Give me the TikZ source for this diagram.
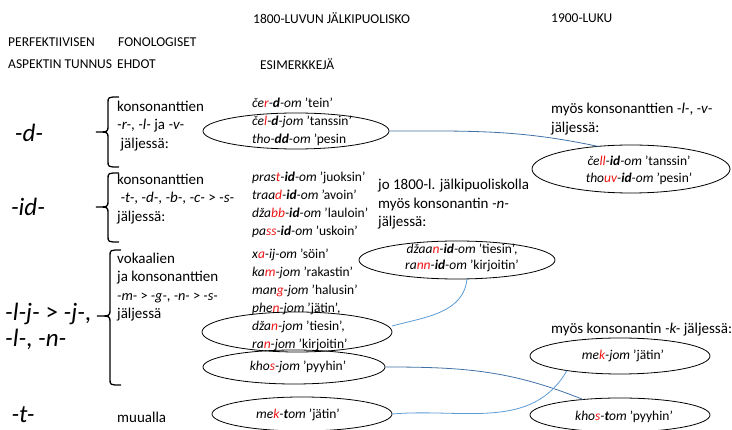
\documentclass[tikz,border=0pt]{standalone}
\usepackage{fontspec}
\setmainfont{Carlito}
\usepackage{xcolor}
\usetikzlibrary{shapes.geometric}
\definecolor{redl}{RGB}{240,20,20}
\definecolor{lblue}{RGB}{91,155,213}
\definecolor{dblue}{RGB}{65,113,165}
\newcommand{\rd}[1]{\textcolor{redl}{#1}}
\begin{document}
\begin{tikzpicture}[x=1pt,y=-1pt,
  hdr/.style={font=\fontsize{13.5}{16}\selectfont,anchor=west,inner sep=0},
  big/.style={font=\fontsize{25}{26}\selectfont\itshape,inner sep=0},
  cond/.style={font=\fontsize{15}{18.5}\selectfont,anchor=west,align=left,inner sep=0},
  ex/.style={font=\fontsize{13.5}{18}\selectfont,anchor=west,align=left,inner sep=0},
  exc/.style={font=\fontsize{13.5}{16.5}\selectfont,align=center,inner sep=0},
  ell/.style={draw,ellipse,line width=0.8pt,inner sep=0},
  brc/.style={line width=1.3pt},
  lk/.style={draw=lblue,line width=0.8pt},
  dk/.style={draw=dblue,line width=0.8pt}]
\useasboundingbox (0,0) rectangle (732,430);
% headers
\node[hdr] (h1) at (253,18) {1800-LUVUN JÄLKIPUOLISKO};
\node[hdr] (h2) at (551,18) {1900-LUKU};
\node[hdr] (h3) at (8,42) {PERFEKTIIVISEN};
\node[hdr] (h4) at (118,42) {FONOLOGISET};
\node[hdr] (h5) at (8,64) {ASPEKTIN TUNNUS};
\node[hdr] (h6) at (117,64) {EHDOT};
\node[hdr] (h7) at (260,64) {ESIMERKKEJÄ};
% big labels
\node[big] (l1) at (29,133) {-d-};
\node[big] (l2) at (28,207) {-id-};
\node[big,anchor=west,align=left,font=\fontsize{25}{26}\selectfont] (l3) at (5,326) {\textit{-l-j-} > \textit{-j-},\\ \textit{-l-}, \textit{-n-}};
\node[big] (l4) at (23,415) {-t-};
% braces
\draw[brc] (119,97) .. controls (108,97) .. (108,103) -- (108,126) .. controls (108,132) .. (96,132) .. controls (108,132) .. (108,138) -- (108,161) .. controls (108,167) .. (119,167);
\draw[brc] (119,173) .. controls (108,173) .. (108,179) -- (108,201) .. controls (108,207) .. (96,207) .. controls (108,207) .. (108,213) -- (108,236) .. controls (108,242) .. (119,242);
\draw[brc] (121,250) .. controls (110,250) .. (110,256) -- (110,310) .. controls (110,316) .. (97,316) .. controls (110,316) .. (110,322) -- (110,379) .. controls (110,385) .. (121,385);
% conditions
\node[cond] (c1) at (117,126) {konsonanttien\\ \textit{-r-}, \textit{-l-} ja \textit{-v-}\\ \ jäljessä:};
\node[cond] (c2) at (117,199) {konsonanttien\\ \ \textit{-t-}, \textit{-d-}, \textit{-b-}, \textit{-c-} > \textit{-s-}\\ jäljessä:};
\node[cond] (c3) at (117,287) {vokaalien\\ ja konsonanttien\\ {\fontsize{14.3}{18.5}\selectfont\textit{-m-} > \textit{-g-}, \textit{-n-} > \textit{-s-}}\\ jäljessä};
\node[cond] (c4) at (117,417) {muualla};
% examples
\node[ex] (x1) at (252,121.5) {\textit{če\rd{r}-\textbf{d}-om} ’tein’\\ \textit{če\rd{l}-\textbf{d}-jom} ’tanssin’\\ \textit{tho-\textbf{dd}-om} ’pesin};
\node[ex] (x2) at (252,205) {\textit{pras\rd{t}-\textbf{id}-om} ’juoksin’\\ \textit{traa\rd{d}-\textbf{id}-om} ’avoin’\\ \textit{dža\rd{bb}-\textbf{id}-om} ’lauloin’\\ \textit{pa\rd{ss}-\textbf{id}-om} ’uskoin’};
\node[ex] (x3) at (252,299.5) {\textit{x\rd{a}-ij-om} ’söin’\\ \textit{ka\rd{m}-jom} ’rakastin’\\ \textit{man\rd{g}-jom} ’halusin’\\ \textit{phe\rd{n}-jom} ’jätin’,\\ \textit{dža\rd{n}-jom} ’tiesin’,\\ \textit{ra\rd{n}-jom} ’kirjoitin’};
\node[exc] (x4) at (298,367) {\textit{kho\rd{s}-jom} ’pyyhin’};
\node[exc] (x5) at (298,415) {\textit{me\rd{k}-\textbf{t}om} ’jätin’};
% right column
\node[cond] (r1) at (551,119) {myös konsonanttien \textit{-l-}, \textit{-v-}\\ jäljessä:};
\node[cond] (r2) at (378,204.5) {jo 1800-l. jälkipuoliskolla\\ myös konsonantin \textit{-n-}\\ jäljessä:};
\node[cond] (r3) at (551,330) {myös konsonantin \textit{-k-} jäljessä:};
\node[exc] (y1) at (639,170.5) {\textit{če\rd{ll}-\textbf{id}-om} ’tanssin’\\ \textit{tho\rd{uv}-\textbf{id}-om} ’pesin’};
\node[exc] (y2) at (462,258) {\textit{džaa\rd{n}-\textbf{id}-om} ’tiesin’,\\ \textit{ra\rd{nn}-\textbf{id}-om} ’kirjoitin’};
\node[exc] (y3) at (623,356) {\textit{me\rd{k}-jom} ’jätin’};
\node[exc] (y4) at (624,417) {\textit{kho\rd{s}-\textbf{t}om} ’pyyhin’};
% ellipses
\node[ell,minimum width=186,minimum height=36] (e1) at (296,131) {};
\node[ell,minimum width=190,minimum height=40] (e2) at (297,332) {};
\node[ell,minimum width=182,minimum height=34] (e3) at (294,367) {};
\node[ell,minimum width=180,minimum height=34] (e4) at (302,414) {};
\node[ell,minimum width=198,minimum height=48] (f1) at (631,169) {};
\node[ell,minimum width=196,minimum height=38] (f2) at (457,260) {};
\node[ell,minimum width=180,minimum height=36] (f3) at (620,356) {};
\node[ell,minimum width=180,minimum height=34] (f4) at (620,415) {};
% connectors
\draw[dk] (e1.east) to[out=0,in=168] ([shift={(-33,-22.6)}]f1.center);
\draw[lk] ([shift={(95,-6)}]e2.center) to[out=15,in=-95] ([shift={(10,18.5)}]f2.center);
\draw[dk] (e3.east) to[out=0,in=158] ([shift={(-37,-15.5)}]f4.center);
\draw[lk] (e4.east) to[out=5,in=240] ([shift={(-53,14.5)}]f3.center);
\end{tikzpicture}
\end{document}
